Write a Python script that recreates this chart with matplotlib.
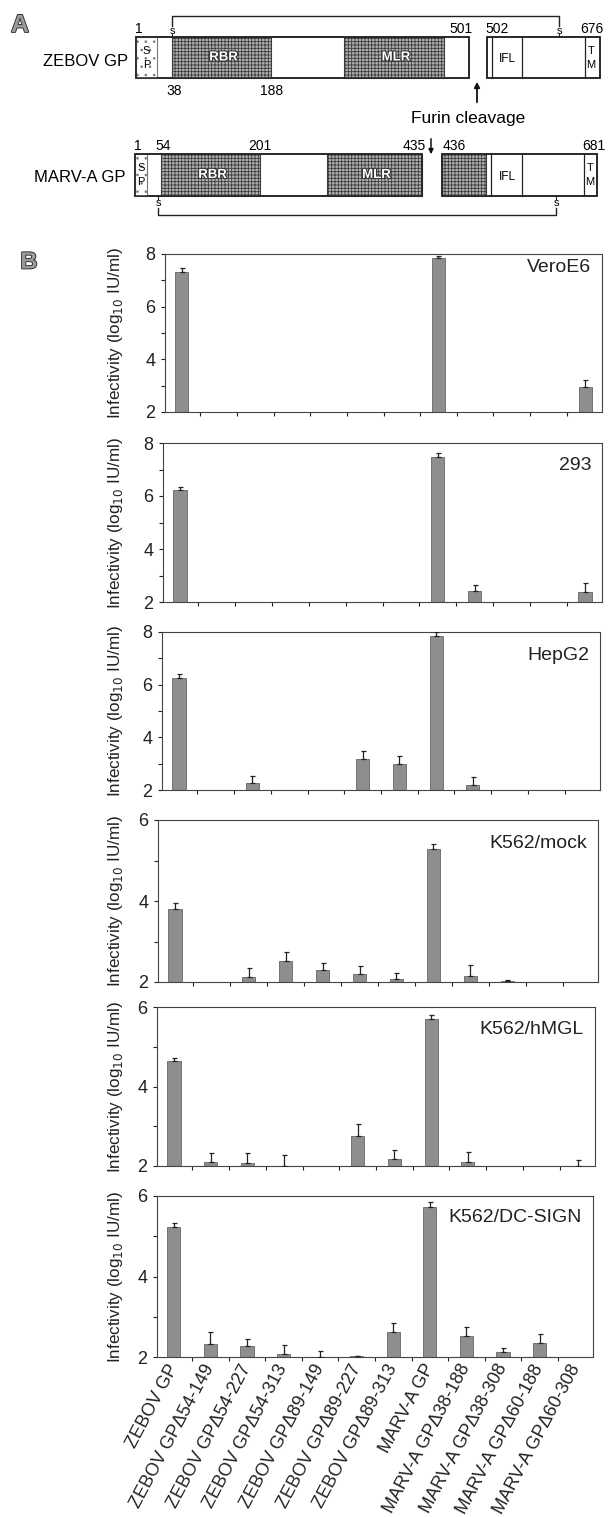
import numpy as np
import matplotlib.pyplot as plt
from matplotlib.patches import Rectangle
import matplotlib.patheffects as pe

plt.rcParams['font.family'] = ['Liberation Sans', 'DejaVu Sans']
plt.rcParams['hatch.linewidth'] = 0.6

nan = np.nan

constructs = ['ZEBOV GP', 'ZEBOV GPΔ54-149', 'ZEBOV GPΔ54-227', 'ZEBOV GPΔ54-313',
              'ZEBOV GPΔ89-149', 'ZEBOV GPΔ89-227', 'ZEBOV GPΔ89-313', 'MARV-A GP',
              'MARV-A GPΔ38-188', 'MARV-A GPΔ38-308', 'MARV-A GPΔ60-188', 'MARV-A GPΔ60-308']

cell_lines = ['VeroE6', '293', 'HepG2', 'K562/mock', 'K562/hMGL', 'K562/DC-SIGN']

# log10 IU/ml, nan = below detection (not drawn)
vero_mean = [7.30, nan, nan, nan, nan, nan, nan, 7.84, nan, nan, nan, 2.95]
vero_err = [0.15, nan, nan, nan, nan, nan, nan, 0.08, nan, nan, nan, 0.28]
h293_mean = [6.24, nan, nan, nan, nan, nan, nan, 7.46, 2.40, nan, nan, 2.38]
h293_err = [0.10, nan, nan, nan, nan, nan, nan, 0.16, 0.23, nan, nan, 0.34]
hepg2_mean = [6.27, nan, 2.25, nan, nan, 3.16, 2.99, 7.86, 2.19, nan, nan, nan]
hepg2_err = [0.15, nan, 0.28, nan, nan, 0.32, 0.30, 0.13, 0.29, nan, nan, nan]
mock_mean = [3.80, nan, 2.13, 2.52, 2.30, 2.19, 2.07, 5.28, 2.16, 2.03, nan, nan]
mock_err = [0.14, nan, 0.21, 0.21, 0.16, 0.21, 0.14, 0.12, 0.26, 0.03, nan, nan]
hmgl_mean = [4.64, 2.09, 2.07, 2.00, nan, 2.75, 2.18, 5.69, 2.11, nan, nan, 2.00]
hmgl_err = [0.08, 0.24, 0.26, 0.27, nan, 0.31, 0.22, 0.11, 0.24, nan, nan, 0.16]
dcsign_mean = [5.22, 2.32, 2.27, 2.08, 2.00, 2.03, 2.62, 5.73, 2.51, 2.12, 2.36, nan]
dcsign_err = [0.10, 0.30, 0.18, 0.23, 0.15, 0.00, 0.23, 0.13, 0.24, 0.11, 0.20, nan]

means = [vero_mean, h293_mean, hepg2_mean, mock_mean, hmgl_mean, dcsign_mean]
errs = [vero_err, h293_err, hepg2_err, mock_err, hmgl_err, dcsign_err]
ymax = [8, 8, 8, 6, 6, 6]

W, H = 608, 1517
fig = plt.figure(figsize=(W / 100, H / 100), dpi=100)

# ---------- panel A: domain schematic (pixel-like coordinates) ----------
ax_a = fig.add_axes([0, 1 - 232 / H, 1, 232 / H])
ax_a.set_xlim(0, W)
ax_a.set_ylim(232, 0)
ax_a.axis('off')

shade = dict(facecolor='#b0b0b0', edgecolor='#3c3c3c', hatch='+++++', lw=0.8)


def draw_row(boxes, sp, shaded, lines, y0, y1, tm):
    h = y1 - y0
    for a, b in boxes:
        ax_a.add_patch(Rectangle((a, y0), b - a, h, facecolor='white', edgecolor='#222', lw=1.1))
    ax_a.add_patch(Rectangle((sp[0], y0), sp[1] - sp[0], h, facecolor='white',
                             edgecolor='#777', hatch='..', lw=0.8))
    for a, b in shaded:
        ax_a.add_patch(Rectangle((a, y0), b - a, h, **shade))
    for x in lines:
        ax_a.plot([x, x], [y0, y1], color='#222', lw=0.9)
    for a, b in boxes:
        ax_a.add_patch(Rectangle((a, y0), b - a, h, facecolor='none', edgecolor='#222', lw=1.1))
    ym = (y0 + y1) / 2
    sx = (sp[0] + sp[1]) / 2
    ax_a.text(sx, ym - 7, 'S', fontsize=8, ha='center', va='center')
    ax_a.text(sx, ym + 7, 'P', fontsize=8, ha='center', va='center')
    ax_a.text(tm, ym - 7, 'T', fontsize=8, ha='center', va='center')
    ax_a.text(tm, ym + 7, 'M', fontsize=8, ha='center', va='center')
    ax_a.text(507, ym + 2, 'IFL', fontsize=8.5, ha='center', va='center')
    for (a, b), name in zip(shaded[:2], ['RBR', 'MLR']):
        ax_a.text((a + b) / 2 + 2, ym, name, fontsize=9.5, fontweight='bold', color='white',
                  ha='center', va='center',
                  path_effects=[pe.withStroke(linewidth=1.5, foreground='#333')])


zebov_boxes = [(136, 469), (487, 600)]
zebov_sp = (136, 157)
zebov_shaded = [(172, 271), (344, 444)]
zebov_lines = [492, 522, 585]
marv_boxes = [(135, 422), (442, 597)]
marv_sp = (135, 147)
marv_shaded = [(161, 260), (327, 422), (442, 486)]
marv_lines = [491, 522, 584]

draw_row(zebov_boxes, zebov_sp, zebov_shaded, zebov_lines, 37, 78, 591)
draw_row(marv_boxes, marv_sp, marv_shaded, marv_lines, 154, 196, 590)

ax_a.text(128, 61, 'ZEBOV GP', fontsize=12, ha='right', va='center')
ax_a.text(126, 178, 'MARV-A GP', fontsize=12, ha='right', va='center')

# disulfide brackets
ax_a.plot([172, 172, 559, 559], [26, 16, 16, 26], color='#222', lw=1)
ax_a.plot([158, 158, 556, 556], [208, 215, 215, 208], color='#222', lw=1)
for x, y in [(172, 31), (559, 31), (158, 203), (556, 203)]:
    ax_a.text(x, y, 's', fontsize=8, ha='center', va='center')
for x in [172, 559]:
    ax_a.plot([x, x], [34, 37], color='#222', lw=0.8)
for x in [158, 556]:
    ax_a.plot([x, x], [196, 199], color='#222', lw=0.8)

residue_labels = [('1', 139, 29), ('501', 461, 29), ('502', 497, 29), ('676', 592, 29),
                  ('38', 174, 91), ('188', 272, 91),
                  ('1', 138, 146), ('54', 163, 146), ('201', 260, 146),
                  ('435', 414, 146), ('436', 454, 146), ('681', 594, 146)]
for t, x, y in residue_labels:
    ax_a.text(x, y, t, fontsize=10, ha='center', va='center')

ax_a.annotate('', xy=(477, 79), xytext=(477, 105),
              arrowprops=dict(arrowstyle='-|>', color='#111', lw=1.3, mutation_scale=8))
ax_a.annotate('', xy=(431, 157), xytext=(431, 136),
              arrowprops=dict(arrowstyle='-|>', color='#111', lw=1.1, mutation_scale=7))
ax_a.text(468, 118, 'Furin cleavage', fontsize=12.5, ha='center', va='center')

letter_fx = [pe.withStroke(linewidth=1.2, foreground='#222')]
fig.text(20 / W, 1 - 25 / H, 'A', fontsize=18, fontweight='bold', color='#9a9a9a',
         ha='center', va='center', path_effects=letter_fx)
fig.text(29 / W, 1 - 262 / H, 'B', fontsize=17, fontweight='bold', color='#9a9a9a',
         ha='center', va='center', path_effects=letter_fx)

# ---------- panel B: infectivity bars ----------
lefts = [165, 163, 162, 158, 157, 157]
rights = [602, 602, 600, 598, 595, 593]
tops = [254, 443, 632, 820, 1007, 1196]
bottoms = [412, 602, 790, 982, 1166, 1357]
name_dy = [14, 23, 23, 23, 23, 21]

x = np.arange(len(constructs))
for i in range(6):
    l, r, t, b = lefts[i], rights[i], tops[i], bottoms[i]
    ax = fig.add_axes([l / W, 1 - b / H, (r - l) / W, (b - t) / H])
    m = np.array(means[i])
    e = np.array(errs[i])
    ok = ~np.isnan(m)
    ax.bar(x[ok], m[ok] - 2, bottom=2, width=0.36, color='#8e8e8e',
           edgecolor='#666666', lw=0.6, zorder=2)
    ek = ok & ~np.isnan(e)
    ax.errorbar(x[ek], m[ek], yerr=[np.zeros(ek.sum()), e[ek]], fmt='none',
                ecolor='#222', elinewidth=0.9, capsize=1.8, capthick=0.9, zorder=3)
    ax.set_xlim(-0.46, len(constructs) - 0.54)
    ax.set_ylim(2, ymax[i])
    ax.set_yticks(np.arange(2, ymax[i] + 1, 2))
    ax.set_yticks(np.arange(3, ymax[i], 2), minor=True)
    ax.set_xticks(x)
    ax.set_xticks(x[:-1] + 0.5, minor=True)
    ax.tick_params(axis='y', which='major', labelsize=13, length=3, width=0.8,
                   pad=4, colors='#222')
    ax.tick_params(axis='y', which='minor', length=3, width=0.8, color='#222')
    ax.tick_params(axis='x', which='major', length=0, pad=6)
    ax.tick_params(axis='x', which='minor', length=3, width=0.8, color='#222')
    for s in ax.spines.values():
        s.set_color('#444')
        s.set_linewidth(0.8)
    ax.set_ylabel('Infectivity (log$_{10}$ IU/ml)', fontsize=12.3, color='#222')
    ax.yaxis.set_label_coords((125 - l) / (r - l), 0.5)
    ax.annotate(cell_lines[i], xy=(1, 1), xycoords='axes fraction',
                xytext=(-11, -name_dy[i]), textcoords='offset pixels',
                ha='right', va='center', fontsize=14, color='#222')
    if i < 5:
        ax.set_xticklabels([])
    else:
        ax.set_xticklabels(constructs, rotation=62, ha='right', va='center',
                           rotation_mode='anchor', fontsize=13, color='#222')

fig.savefig('out.png', dpi=100)
